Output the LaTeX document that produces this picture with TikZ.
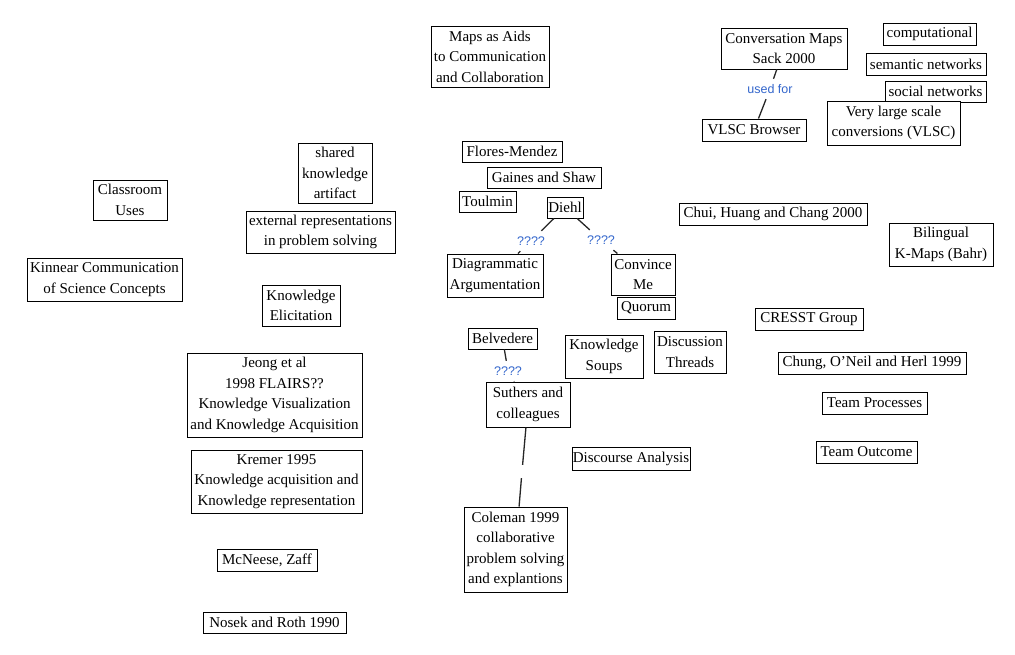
\documentclass[tikz,border=0pt]{standalone}
\usepackage{fontspec}
\setmainfont{Liberation Serif}
\newfontfamily\linkfont{Liberation Sans}
\definecolor{linkblue}{RGB}{51,102,204}
\newcommand\cmbox[6]{\node[cbox, minimum width={(#4-#2)*1pt}, minimum height={(#5-#3)*1pt}] (#1) at ({(#2+#4)/2},{(#3+#5)/2}) {#6};}
\tikzset{
  cbox/.style={draw=black, line width=1pt, fill=white, inner sep=0pt, align=center,
    font=\fontsize{15}{20.5}\selectfont},
  lnk/.style={inner sep=0pt, minimum height=20pt, minimum width=30pt, text=linkblue,
    font=\linkfont\fontsize{12.5}{14}\selectfont},
  gapnode/.style={inner sep=0pt, minimum width=4pt, minimum height=13pt},
  conn/.style={draw=black!85, line width=1.3pt}
}
\begin{document}
\begin{tikzpicture}[x=1pt,y=-1pt]
\useasboundingbox[fill=white] (0,0) rectangle (1015,654);
% concepts
\cmbox{maps}{431}{26}{549}{87}{Maps as Aids\\to Communication\\and Collaboration}
\cmbox{conv}{721}{28}{847}{69}{Conversation Maps\\Sack 2000}
\cmbox{comp}{883}{23}{976}{45}{computational}
\cmbox{sem}{866}{53}{986}{75}{semantic networks}
\cmbox{soc}{885}{81}{986}{102}{social networks}
\cmbox{vlsc}{827}{101}{960}{145}{Very large scale\\conversions (VLSC)}
\cmbox{browser}{702}{119}{806}{141}{VLSC Browser}
\cmbox{flores}{462}{141}{562}{162}{Flores-Mendez}
\cmbox{gaines}{487}{167}{601}{188}{Gaines and Shaw}
\cmbox{toulmin}{459}{191}{516}{212}{Toulmin}
\cmbox{diehl}{547}{197}{583}{218}{Diehl}
\cmbox{diag}{447}{254}{543}{297}{Diagrammatic\\Argumentation}
\cmbox{convince}{611}{254}{675}{295}{Convince\\Me}
\cmbox{quorum}{617}{297}{675}{319}{Quorum}
\cmbox{chui}{679}{203}{867}{225}{Chui, Huang and Chang 2000}
\cmbox{bilingual}{889}{223}{993}{266}{Bilingual\\K-Maps (Bahr)}
\cmbox{cresst}{755}{308}{863}{330}{CRESST Group}
\cmbox{soups}{565}{335}{643}{378}{Knowledge\\Soups}
\cmbox{threads}{654}{331}{726}{373}{Discussion\\Threads}
\cmbox{chung}{778}{352}{966}{374}{Chung, O'Neil and Herl 1999}
\cmbox{teamproc}{822}{392}{927}{414}{Team Processes}
\cmbox{teamout}{816}{441}{917}{463}{Team Outcome}
\cmbox{discourse}{572}{447}{690}{470}{Discourse Analysis}
\cmbox{belvedere}{468}{328}{537}{349}{Belvedere}
\cmbox{suthers}{486}{382}{570}{427}{Suthers and\\colleagues}
\cmbox{coleman}{464}{507}{567}{592}{Coleman 1999\\collaborative\\problem solving\\and explantions}
\cmbox{jeong}{187}{353}{362}{437}{Jeong et al\\1998 FLAIRS??\\Knowledge Visualization\\and Knowledge Acquisition}
\cmbox{kremer}{191}{450}{362}{513}{Kremer 1995\\Knowledge acquisition and\\Knowledge representation}
\cmbox{mcneese}{217}{549}{317}{571}{McNeese, Zaff}
\cmbox{nosek}{203}{612}{346}{633}{Nosek and Roth 1990}
\cmbox{classroom}{93}{180}{167}{220}{Classroom\\Uses}
\cmbox{kinnear}{27}{258}{182}{301}{Kinnear Communication\\of Science Concepts}
\cmbox{external}{246}{211}{395}{253}{external representations\\in problem solving}
\cmbox{elicit}{262}{285}{340}{326}{Knowledge\\Elicitation}
\cmbox{shared}{298}{143}{372}{203}{shared\\knowledge\\artifact}
% linking phrases
\node[lnk] (usedfor) at (770,89) {used for};
\node[lnk] (q1) at (531,241) {????};
\node[lnk] (q2) at (601,240) {????};
\node[lnk] (q3) at (508,371) {????};
\node[gapnode] (g1) at (522,471.5) {};
% connectors
\draw[conn] (conv) -- (usedfor) -- (browser);
\draw[conn] (diehl) -- (q1) -- (diag);
\draw[conn] (diehl) -- (q2) -- (convince);
\draw[conn] (belvedere) -- (q3) -- (suthers);
\draw[conn] (suthers) -- (g1) -- (coleman);
\end{tikzpicture}
\end{document}
